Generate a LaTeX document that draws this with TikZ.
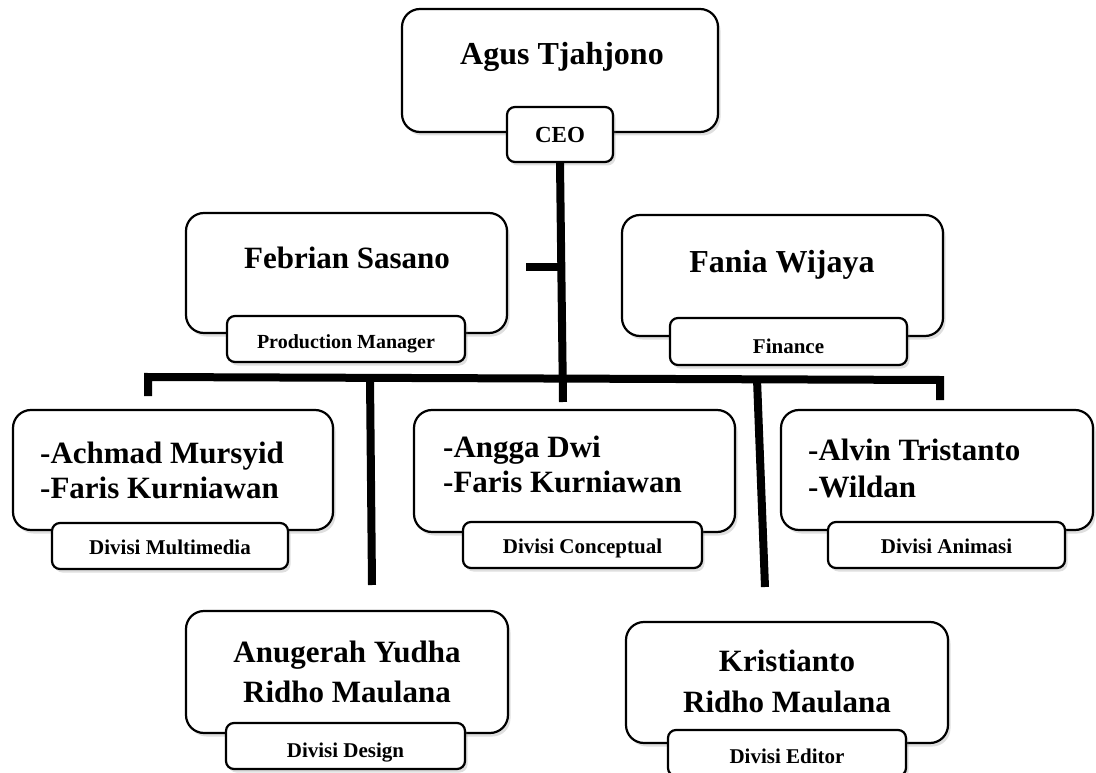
\documentclass[tikz,border=0pt]{standalone}
\usepackage{fontspec}
\setmainfont{Liberation Serif}
\usetikzlibrary{shadows}

\tikzset{
  namebox/.style={draw, fill=white, line width=2.2pt, rounded corners=18pt, inner sep=0pt,
    drop shadow={shadow xshift=2.5pt, shadow yshift=-3.5pt, opacity=.25}},
  rolebox/.style={draw, fill=white, line width=2.2pt, rounded corners=8pt, inner sep=0pt,
    drop shadow={shadow xshift=2.5pt, shadow yshift=-3.5pt, opacity=.25}},
  nametext/.style={inner sep=0pt, font=\bfseries\fontsize{31}{35}\selectfont},
  roletext/.style={inner sep=0pt, font=\bfseries\fontsize{21}{24}\selectfont},
  link/.style={line width=8pt}
}

\begin{document}
\begin{tikzpicture}[x=1pt,y=-1pt]
\useasboundingbox (0,0) rectangle (1096,773);

% CEO
\node[namebox, minimum width=316pt, minimum height=123pt] (agus) at (560,70.5) {};
\node[nametext, font=\bfseries\fontsize{32}{35}\selectfont, anchor=base] (agus-t) at (562,65) {Agus Tjahjono};
\node[rolebox, minimum width=106pt, minimum height=55pt] (ceo) at (560,134.5) {};
\node[roletext, font=\bfseries\fontsize{23}{26}\selectfont, anchor=base] (ceo-t) at (560,143) {CEO};

% second level
\node[namebox, minimum width=321pt, minimum height=120pt] (febrian) at (346.5,273) {};
\node[nametext, anchor=base] (febrian-t) at (347,269) {Febrian Sasano};
\node[rolebox, minimum width=238pt, minimum height=46pt] (prod) at (346,339) {};
\node[roletext, font=\bfseries\fontsize{20}{24}\selectfont, anchor=base] (prod-t) at (346,348) {Production Manager};

\node[namebox, minimum width=321pt, minimum height=121pt] (fania) at (782.5,275.5) {};
\node[nametext, font=\bfseries\fontsize{32}{35}\selectfont, anchor=base] (fania-t) at (782,272) {Fania Wijaya};
\node[rolebox, minimum width=237pt, minimum height=47pt] (fin) at (788.5,341.5) {};
\node[roletext, anchor=base] (fin-t) at (788.5,353) {Finance};

% divisions, upper row (base = last line)
\node[namebox, minimum width=320pt, minimum height=120pt] (multi) at (173,470) {};
\node[nametext, align=left, anchor=base west] (multi-t) at (40,498) {-Achmad Mursyid\\-Faris Kurniawan};
\node[rolebox, minimum width=236pt, minimum height=46pt] (multi-r) at (170,546) {};
\node[roletext, anchor=base] (multi-rt) at (170,554) {Divisi Multimedia};

\node[namebox, minimum width=321pt, minimum height=122pt] (concept) at (574.5,471) {};
\node[nametext, align=left, anchor=base west] (concept-t) at (443,492) {-Angga Dwi\\-Faris Kurniawan};
\node[rolebox, minimum width=239pt, minimum height=46pt] (concept-r) at (582.5,545) {};
\node[roletext, anchor=base] (concept-rt) at (582.5,553) {Divisi Conceptual};

\node[namebox, minimum width=312pt, minimum height=120pt] (anim) at (937,470) {};
\node[nametext, align=left, anchor=base west] (anim-t) at (808,497) {-Alvin Tristanto\\[2pt]-Wildan};
\node[rolebox, minimum width=237pt, minimum height=46pt] (anim-r) at (946.5,545) {};
\node[roletext, anchor=base] (anim-rt) at (946.5,553) {Divisi Animasi};

% divisions, lower row
\node[namebox, minimum width=322pt, minimum height=122pt] (design) at (347,672) {};
\node[nametext, align=center, anchor=base] (design-t) at (347,702) {Anugerah Yudha\\[5pt]Ridho Maulana};
\node[rolebox, minimum width=239pt, minimum height=46pt] (design-r) at (345.5,746) {};
\node[roletext, anchor=base] (design-rt) at (345.5,757) {Divisi Design};

\node[namebox, minimum width=322pt, minimum height=121pt] (editor) at (787,682.5) {};
\node[nametext, align=center, anchor=base] (editor-t) at (787,712) {Kristianto\\[6pt]Ridho Maulana};
\node[rolebox, minimum width=238pt, minimum height=46pt] (editor-r) at (787,753) {};
\node[roletext, anchor=base] (editor-rt) at (787,763) {Divisi Editor};

% lines
\coordinate (trunk) at (563,402);
\coordinate (stub) at (526,267);
\coordinate (busL) at (148,377);
\coordinate (busR) at (940,380);
\coordinate (dropL) at (148,396);
\coordinate (dropR) at (940,400);
\coordinate (designTop) at (370,378);
\coordinate (designEnd) at (372,585);
\coordinate (editorTop) at (757,379);
\coordinate (editorEnd) at (765,587);

\draw[link] (ceo.south) -- (trunk);
\draw[link] (stub) -- (stub -| ceo.south);
\draw[link] (dropL) -- (busL) -- (busR) -- (dropR);
\draw[link] (designTop) -- (designEnd);
\draw[link] (editorTop) -- (editorEnd);

\end{tikzpicture}
\end{document}
